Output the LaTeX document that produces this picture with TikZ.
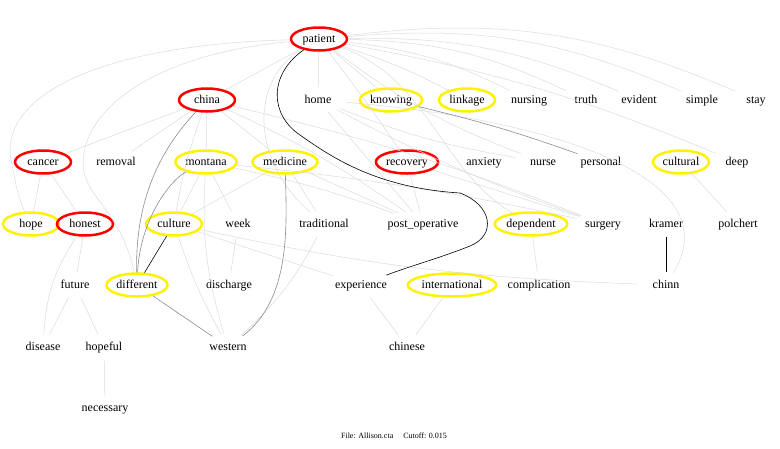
\documentclass[tikz,border=0pt]{standalone}
\usepackage{fontspec}
\setmainfont{Liberation Serif}
\usetikzlibrary{shapes.geometric}

\tikzstyle{term} = [ellipse, minimum width=56pt, minimum height=23pt, inner
sep=1pt, text height=9pt, text depth=3pt, line width=2.5pt]
\tikzstyle{hot} = [term, draw=red]
\tikzstyle{warm} = [term, draw=yellow]
\tikzstyle{word} = [term]
\tikzstyle{faint} = [draw=black!14, line width=0.5pt]
\tikzstyle{dim} = [draw=black!45, line width=0.6pt]
\tikzstyle{strong} = [draw=black, line width=0.6pt]

\begin{document}
\begin{tikzpicture}[x=1pt, y=1pt, font=\fontsize{12}{14}\selectfont]
              \useasboundingbox (0,0) rectangle (780,-448);

              % terms, row by row
              \node (patient) [hot] at (319,-39) {patient};

              \node (china) [hot] at (207,-100) {china};
              \node (home) [word] at (318,-100) {home};
              \node (knowing) [warm] at (391,-100) {knowing};
              \node (linkage) [warm] at (467,-100) {linkage};
              \node (nursing) [word] at (529,-100) {nursing};
              \node (truth) [word] at (586,-100) {truth};
              \node (evident) [word] at (639,-100) {evident};
              \node (simple) [word] at (702,-100) {simple};
              \node (stay) [word] at (756,-100) {stay};

              \node (cancer) [hot] at (43,-162) {cancer};
              \node (removal) [word] at (116,-162) {removal};
              \node (montana) [warm] at (206,-162) {montana};
              \node (medicine) [warm] at (285,-162) {medicine};
              \node (recovery) [hot] at (407,-162) {recovery};
              \node (anxiety) [word] at (484,-162) {anxiety};
              \node (nurse) [word] at (543,-162) {nurse};
              \node (personal) [word] at (601,-162) {personal};
              \node (cultural) [warm] at (681,-162) {cultural};
              \node (deep) [word] at (737,-162) {deep};

              \node (hope) [warm] at (31,-224) {hope};
              \node (honest) [hot] at (85,-224) {honest};
              \node (culture) [warm] at (174,-224) {culture};
              \node (week) [word] at (238,-224) {week};
              \node (traditional) [word] at (324,-224) {traditional};
              \node (postop) [word] at (423,-224) {post\_operative};
              \node (dependent) [warm] at (531,-224) {dependent};
              \node (surgery) [word] at (603,-224) {surgery};
              \node (kramer) [word] at (666,-224) {kramer};
              \node (polchert) [word] at (738,-224) {polchert};

              \node (future) [word] at (75,-285) {future};
              \node (different) [warm] at (137,-285) {different};
              \node (discharge) [word] at (229,-285) {discharge};
              \node (experience) [word] at (361,-285) {experience};
              \node (international) [warm] at (452,-285) {international};
              \node (complication) [word] at (539,-285) {complication};
              \node (chinn) [word] at (666,-285) {chinn};

              \node (disease) [word] at (43,-347) {disease};
              \node (hopeful) [word] at (104,-347) {hopeful};
              \node (western) [word] at (228,-347) {western};
              \node (chinese) [word] at (407,-347) {chinese};

              \node (necessary) [word] at (105,-408) {necessary};

              \node (caption) at (394,-436) {\fontsize{8}{9}\selectfont
              File: Allison.cta\quad\ Cutoff: 0.015};

              % light links
              \draw [faint] (patient) -- (china);
              \draw [faint] (patient) -- (home);
              \draw [faint] (patient) -- (knowing);
              \draw [faint] (patient) to[bend left=5] (linkage);
              \draw [faint] (patient) to[bend left=10] (nursing);
              \draw [faint] (patient) to[bend left=12] (truth);
              \draw [faint] (patient) to[bend left=12] (evident);
              \draw [faint] (patient) to[bend left=14] (simple);
              \draw [faint] (patient) to[bend left=15] (stay);
              \draw [faint] (patient) .. controls (90,-45) and (-5,-100) ..
              (12,-165) .. controls (16,-185) and (18,-198) .. (hope);
              \draw [faint] (patient) .. controls (140,-55) and (75,-120) ..
              (84,-172) .. controls (90,-200) and (122,-215) .. (different);
              \draw [faint] (patient) .. controls (250,-80) and (250,-160) ..
              (traditional);
              \draw [faint] (patient) .. controls (350,-80) and (380,-120) ..
              (recovery);
              \draw [faint] (patient) .. controls (430,-80) and (440,-170) ..
              (dependent);
              \draw [faint] (patient) to[bend right=8] (nurse);
              \draw [faint] (patient) to[bend left=6] (deep);
              \draw [faint] (home) to[bend right=6] (nurse);
              \draw [faint] (home) -- (postop);
              \draw [faint] (home) .. controls (560,-120) and (730,-180) ..
              (chinn);
              \draw [faint] (home) to[bend right=4] (surgery);
              \draw [faint] (china) -- (cancer);
              \draw [faint] (china) -- (removal);
              \draw [faint] (china) -- (montana);
              \draw [faint] (china) -- (medicine);
              \draw [faint] (china) to[bend right=5] (culture);
              \draw [faint] (china) to[bend left=5] (postop);
              \draw [faint] (china) to[bend left=4] (surgery);
              \draw [faint] (cancer) -- (hope);
              \draw [faint] (cancer) -- (honest);
              \draw [faint] (honest) -- (future);
              \draw [faint] (honest) to[bend right=15] (disease);
              \draw [faint] (future) -- (disease);
              \draw [faint] (future) -- (hopeful);
              \draw [faint] (hopeful) -- (necessary);
              \draw [faint] (montana) -- (culture);
              \draw [faint] (montana) -- (week);
              \draw [faint] (montana) to[bend right=10] (western);
              \draw [faint] (montana) to[bend left=3] (surgery);
              \draw [faint] (montana) to[bend left=4] (postop);
              \draw [faint] (medicine) -- (culture);
              \draw [faint] (medicine) -- (traditional);
              \draw [faint] (medicine) -- (postop);
              \draw [faint] (culture) to[bend right=5] (western);
              \draw [faint] (culture) -- (experience);
              \draw [faint] (culture) to[bend right=5] (chinn);
              \draw [faint] (week) -- (discharge);
              \draw [faint] (traditional) to[bend left=10] (western);
              \draw [faint] (recovery) -- (postop);
              \draw [faint] (recovery) -- (surgery);
              \draw [faint] (dependent) -- (complication);
              \draw [faint] (experience) -- (chinese);
              \draw [faint] (international) -- (chinese);
              \draw [faint] (cultural) -- (polchert);

              % darker links
              \draw [dim] (china) .. controls (160,-150) and (135,-200) ..
              (different);
              \draw [dim] (montana) .. controls (170,-180) and (140,-220) ..
              (different);
              \draw [dim] (medicine) .. controls (287,-230) and (290,-300) ..
              (western);
              \draw [dim] (different) -- (western);
              \draw [dim] (knowing) to[bend left=3] (personal);

              % strongest links
              \draw [strong] (patient) .. controls (268,-75) and (270,-115)
              .. (300,-135) .. controls (335,-160) and (380,-188) ..
              (460,-193) .. controls (492,-205) and (497,-235) .. (470,-246)
              .. controls (440,-258) and (410,-266) .. (experience);
              \draw [strong] (culture) -- (different);
              \draw [strong] (kramer) -- (chinn);
            \end{tikzpicture}
\end{document}
